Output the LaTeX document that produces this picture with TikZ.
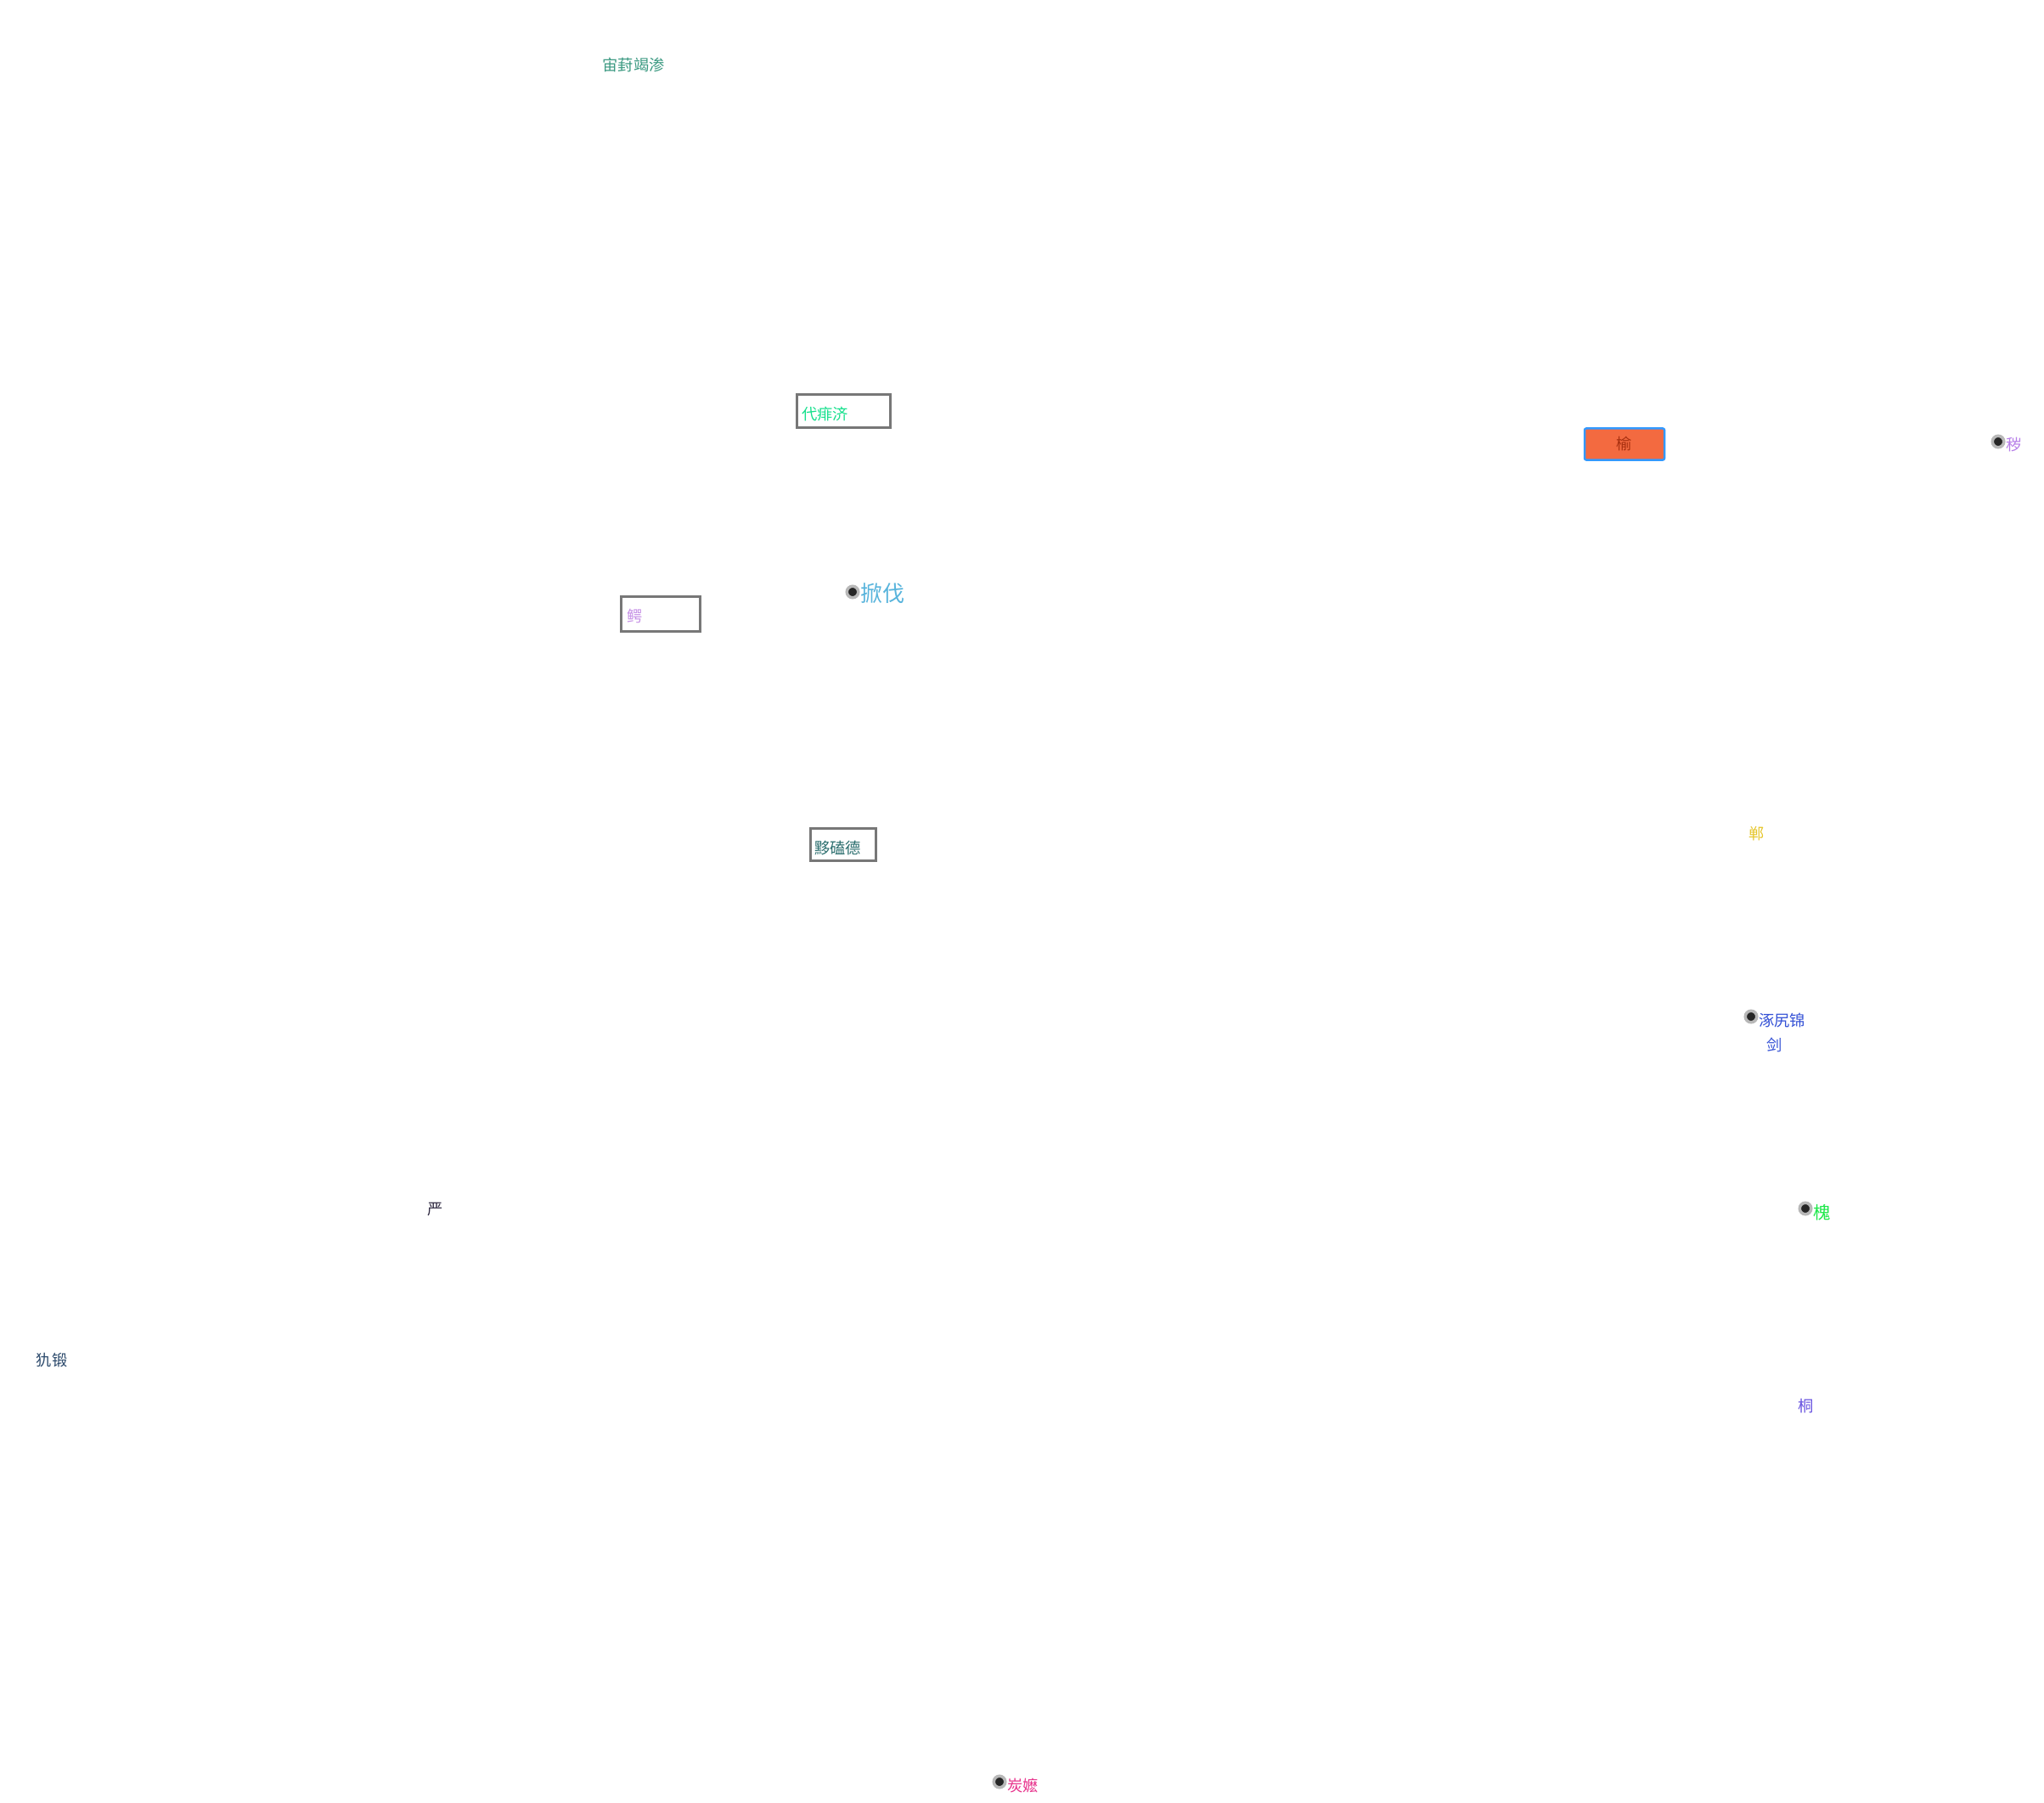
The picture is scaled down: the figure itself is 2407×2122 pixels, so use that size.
\documentclass[tikz,border=0pt]{standalone}
\usepackage{fontspec}
\setmainfont{Noto Sans CJK SC}
\usepackage{xcolor}
\usetikzlibrary{positioning}

\definecolor{framegray}{HTML}{777777}
\definecolor{cTitle}{HTML}{3C9A82}
\definecolor{cGreen}{HTML}{14E08C}
\definecolor{cOrange}{HTML}{F36A40}
\definecolor{cOrangeTxt}{HTML}{A83010}
\definecolor{cBlueEdge}{HTML}{3399FF}
\definecolor{cViolet}{HTML}{B77EE8}
\definecolor{cLilac}{HTML}{C690E6}
\definecolor{cSky}{HTML}{58B4DC}
\definecolor{cTeal}{HTML}{2B6E6E}
\definecolor{cYellow}{HTML}{E6C62A}
\definecolor{cBlue}{HTML}{3552D6}
\definecolor{cLime}{HTML}{1EE84A}
\definecolor{cIndigo}{HTML}{6A55E0}
\definecolor{cInk}{HTML}{2E2840}
\definecolor{cNavy}{HTML}{2C4A6C}
\definecolor{cPink}{HTML}{E8338C}

\begin{document}
\begin{tikzpicture}[
    x=0.01cm, y=-0.01cm,
    lbl/.style={inner sep=0pt, font=\fontsize{5.2}{6.4}\selectfont},
    biglbl/.style={inner sep=0pt, font=\fontsize{7.4}{8.8}\selectfont},
    frame/.style={draw=framegray, line width=0.03cm, rectangle, inner sep=0pt, font=\fontsize{5.2}{6.4}\selectfont},
    dot/.style={circle, fill=black!85, draw=black!28, line width=0.035cm, inner sep=0pt, minimum size=0.135cm}
]
\useasboundingbox[fill=white] (0,0) rectangle (2407,2122);

% free labels
\node[lbl, text=cTitle] (title) at (746,76) {宙葑竭渗};
\node[lbl, text=cYellow] (dan) at (2069,982) {郸};
\node[lbl, text=cIndigo] (tong) at (2127,1656) {桐};
\node[lbl, text=cInk] (yan) at (513,1424) {严};
\node[lbl, text=cNavy] (qiu) at (61,1602) {犰锻};

% framed boxes
\node[frame, minimum width=1.09cm, minimum height=0.38cm] (daifei) at (993.5,484) {};
\node[lbl, text=cGreen, anchor=west] (daifeiTxt) at ([xshift=0.06cm, yshift=-0.04cm]daifei.west) {代痱济};
\node[frame, minimum width=0.92cm, minimum height=0.40cm] (e) at (778,723) {};
\node[lbl, text=cLilac, anchor=west] (eTxt) at ([xshift=0.07cm, yshift=-0.02cm]e.west) {鳄};
\node[frame, minimum width=0.76cm, minimum height=0.37cm] (yike) at (993,994.5) {};
\node[lbl, text=cTeal, anchor=west] (yikeTxt) at ([xshift=0.05cm, yshift=-0.04cm]yike.west) {黟磕德};
\node[rectangle, rounded corners=0.02cm, draw=cBlueEdge, fill=cOrange, line width=0.025cm,
      minimum width=0.94cm, minimum height=0.37cm, inner sep=0pt,
      font=\fontsize{5.2}{6.4}\selectfont, text=cOrangeTxt] (yu) at (1913,523) {榆};

% dotted labels
\node[dot] (xianDot) at (1004,697) {};
\node[biglbl, text=cSky, anchor=west] (xian) at ([xshift=0.0cm, yshift=-0.02cm]xianDot.east) {掀伐};
\node[dot] (huiDot) at (2353,520) {};
\node[lbl, text=cViolet, anchor=west] (hui) at ([xshift=0.0cm, yshift=-0.04cm]huiDot.east) {秽};
\node[dot] (zhuoDot) at (2062,1197) {};
\node[lbl, text=cBlue, anchor=north west, align=center] (zhuo) at ([xshift=0.0cm, yshift=0.05cm]zhuoDot.east) {涿尻锦\\[0.07cm]\hspace*{-0.18cm}剑};
\node[dot] (huaiDot) at (2126,1423) {};
\node[lbl, text=cLime, anchor=west, font=\fontsize{5.8}{7}\selectfont] (huai) at ([xshift=0.0cm, yshift=-0.05cm]huaiDot.east) {槐};
\node[dot] (tanDot) at (1177,2098) {};
\node[lbl, text=cPink, anchor=west] (tan) at ([xshift=0.0cm, yshift=-0.05cm]tanDot.east) {炭嬷};
\end{tikzpicture}
\end{document}
